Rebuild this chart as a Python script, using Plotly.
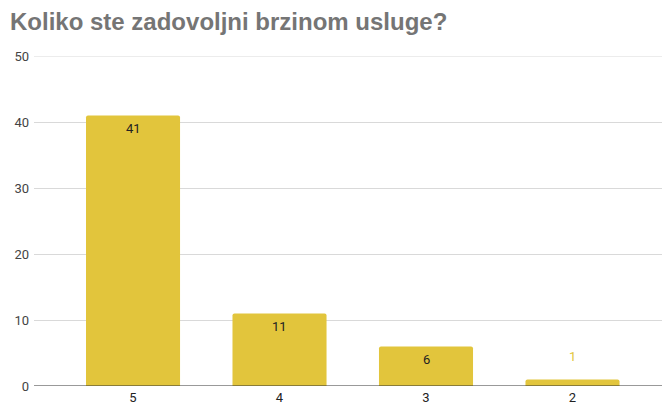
import plotly.graph_objects as go

categories = ["5", "4", "3", "2"]
counts = [41, 11, 6, 1]
y_ticks = [0, 10, 20, 30, 40, 50]

bar_color = "#E2C53C"

fig = go.Figure(
    go.Bar(
        x=list(range(len(categories))),
        y=counts,
        width=0.642,
        marker=dict(color=bar_color, line=dict(width=0), cornerradius=2),
        hoverinfo="skip",
    )
)

# value labels: inside near the top for tall bars, above for short ones
annotations = []
for i, v in enumerate(counts):
    inside = v >= 3
    annotations.append(
        dict(
            x=i, y=v, xref="x", yref="y",
            text=str(v), showarrow=False,
            yshift=-13 if inside else 23,
            font=dict(family="Roboto, Arial, sans-serif", size=13,
                      color="#222222" if inside else bar_color),
        )
    )

fig.update_layout(
    width=662, height=406,
    margin=dict(l=34, r=0, t=56, b=20),
    paper_bgcolor="white", plot_bgcolor="white",
    title=dict(
        text="<b>Koliko ste zadovoljni brzinom usluge?</b>",
        x=10 / 662, xanchor="left", y=1 - 22 / 406, yanchor="middle",
        font=dict(family="Arial, Liberation Sans, sans-serif", size=24, color="#757575"),
    ),
    xaxis=dict(
        range=[-0.676, 3.611],
        tickmode="array",
        tickvals=list(range(len(categories))),
        ticktext=categories,
        showgrid=False, zeroline=False, showline=False,
        ticks="", ticklabelstandoff=2,
        tickfont=dict(family="Roboto, Arial, sans-serif", size=13, color="#222222"),
        fixedrange=True,
    ),
    yaxis=dict(
        range=[0, 50],
        tickvals=y_ticks,
        showgrid=True, gridcolor="#D9D9D9", gridwidth=1,
        zeroline=False, showline=False, ticks="",
        ticklabelstandoff=4,
        tickfont=dict(family="Roboto, Arial, sans-serif", size=13, color="#444444"),
        fixedrange=True,
    ),
    annotations=annotations,
    showlegend=False,
    shapes=[
        # top gridline at the axis maximum
        dict(type="line", xref="paper", yref="y", x0=0, x1=1,
             y0=y_ticks[-1], y1=y_ticks[-1], layer="below",
             line=dict(color="#D9D9D9", width=1)),
        # baseline
        dict(type="line", xref="paper", yref="y", x0=0, x1=1, y0=0, y1=0,
             line=dict(color="#333333", width=1)),
    ],
)

fig.write_html("out.html")
